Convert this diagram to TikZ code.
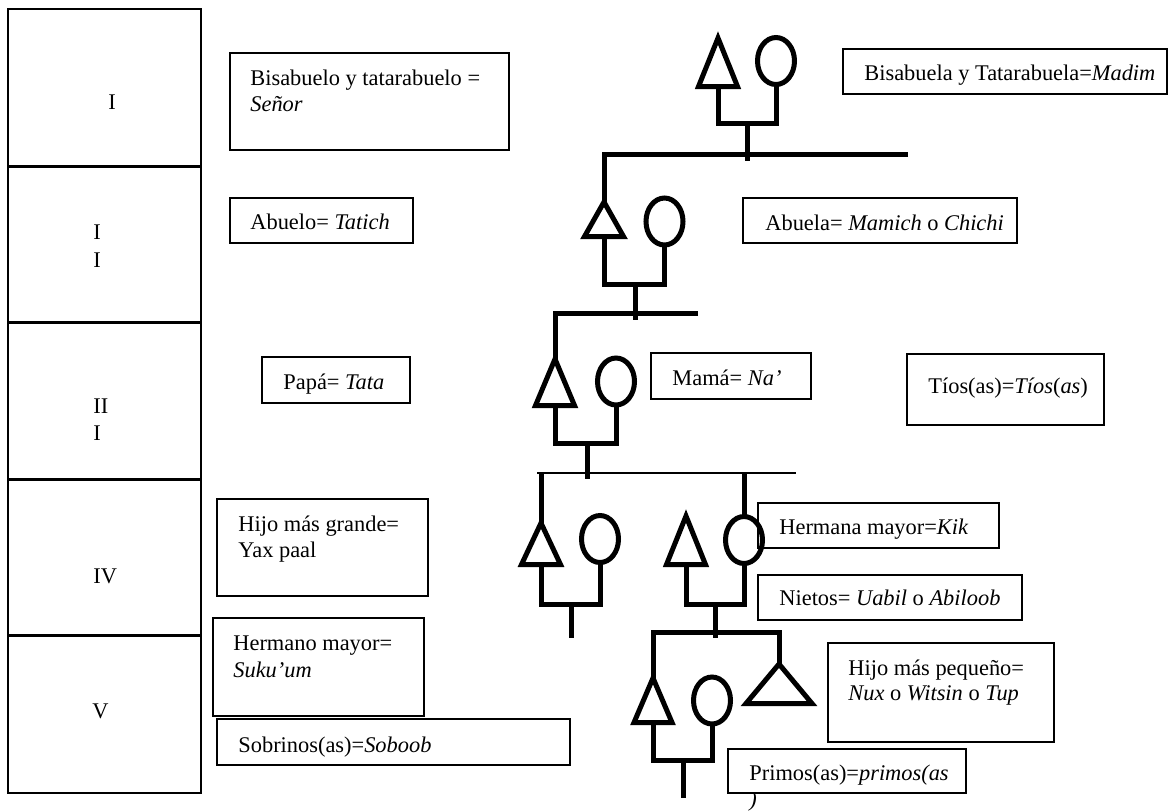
\documentclass[tikz,border=0pt]{standalone}
\usepackage{fontspec}
\setmainfont{Liberation Serif}
\usetikzlibrary{shapes.geometric,fit}
\newcommand\lbfont{\fontsize{11.2pt}{13pt}\selectfont}
% male symbol: name, x, apex y, base y, half width
\newcommand\maleT[5]{%
  \coordinate (#1-top) at (#2,#3);
  \coordinate (#1-bot) at (#2,#4);
  \draw[gl] (#1-top) -- (#2+#5,#4) -- (#2-#5,#4) -- cycle;}
\begin{document}
\begin{tikzpicture}[x=0.5pt,y=-0.5pt,
  gl/.style={line width=2.5pt, line join=miter, line cap=butt},
  thinbar/.style={line width=1.4pt},
  fem/.style={ellipse, draw, line width=2.5pt, minimum width=18.5pt, minimum height=23.5pt, inner sep=0pt, outer sep=0pt},
  bx/.style={draw, line width=1pt, inner sep=0pt, fill=white},
  lbl/.style={anchor=base west, inner sep=0pt, font=\lbfont},
  col/.style={line width=1pt},
  divline/.style={line width=1.5pt}]
\useasboundingbox (0,0) rectangle (1168,811);

% generation column
\draw[col] (8,9) rectangle (201,793);
\foreach \yy in {166,322,479,635} \draw[divline] (8,\yy) -- (201,\yy);
\node[lbl] (r1) at (108,109) {I};
\node[lbl] (r2a) at (93,239) {I};
\node[lbl] (r2b) at (93,267) {I};
\node[lbl] (r3a) at (93,413) {II};
\node[lbl] (r3b) at (93,440) {I};
\node[lbl] (r4) at (93,583) {IV};
\node[lbl] (r5) at (92,718) {V};

% overflow character below Primos box
\node[lbl] (t15) at (749,806) {\textit{)}};

% boxes
\node[bx, fit={(230,53) (509,150)}] (b1) {};
\node[bx, fit={(230,198) (413,243)}] (b2) {};
\node[bx, fit={(262,357) (410,403)}] (b3) {};
\node[bx, fit={(217,499) (428,596)}] (b4) {};
\node[bx, fit={(213,618) (424,716)}] (b5) {};
\node[bx, fit={(217,719) (570,765)}] (b6) {};
\node[bx, fit={(843,49) (1167,94)}] (b7) {};
\node[bx, fit={(743,198) (1017,243)}] (b8) {};
\node[bx, fit={(651,353) (811,399)}] (b9) {};
\node[bx, fit={(907,354) (1104,425)}] (b10) {};
\node[bx, fit={(758,503) (999,548)}] (b11) {};
\node[bx, fit={(758,575) (1022,620)}] (b12) {};
\node[bx, fit={(828,643) (1054,742)}] (b13) {};
\node[bx, fit={(728,749) (966,793)}] (b14) {};

% texts
\node[lbl] (t1a) at (250,85) {Bisabuelo y tatarabuelo =};
\node[lbl] (t1b) at (250,111) {\textit{Señor}};
\node[lbl] (t2) at (250,229) {Abuelo= \textit{Tatich}};
\node[lbl] (t3) at (283,389) {Papá= \textit{Tata}};
\node[lbl] (t4a) at (238,531) {Hijo más grande=};
\node[lbl] (t4b) at (238,557) {Yax paal};
\node[lbl] (t5a) at (233,650) {Hermano mayor=};
\node[lbl] (t5b) at (233,677) {\textit{Suku’um}};
\node[lbl] (t6) at (238,752) {Sobrinos(as)=\textit{Soboob}};
\node[lbl] (t7) at (864,80) {Bisabuela y Tatarabuela=\textit{Madim}};
\node[lbl] (t8) at (765,230) {Abuela= \textit{Mamich} o \textit{Chichi}};
\node[lbl] (t9) at (672,385) {Mamá= \textit{Na’}};
\node[lbl] (t10) at (928,393) {Tíos(as)=\textit{Tíos}(\textit{as})};
\node[lbl] (t11) at (779,534) {Hermana mayor=\textit{Kik}};
\node[lbl] (t12) at (779,605) {Nietos= \textit{Uabil} o \textit{Abiloob}};
\node[lbl] (t13a) at (848,675) {Hijo más pequeño=};
\node[lbl] (t13b) at (848,700) {\textit{Nux} o \textit{Witsin} o \textit{Tup}};
\node[lbl] (t14) at (749,780) {Primos(as)=\textit{primos(as}};

% ---- kinship symbols ----
% generation I
\maleT{m1}{718}{38}{86.5}{19.5}
\node[fem] (f1) at (776,61) {};
\coordinate (j1) at (747,123.5);
\draw[gl] (m1-bot) -- (718,123.5) -- (776,123.5) -- (f1.south);
\draw[gl] (j1) -- (747,161);
% generation II
\maleT{m2}{604}{202}{236.5}{19.5}
\node[fem] (f2) at (664.5,221.5) {};
\draw[gl] (908,154) -- (604,154) -- (m2-top);
\coordinate (j2) at (635,284);
\draw[gl] (m2-bot) -- (604,284) -- (664.5,284) -- (f2.south);
\draw[gl] (j2) -- (635,320);
% generation III
\maleT{m3}{555}{359}{405.5}{19.5}
\node[fem] (f3) at (616,381.5) {};
\draw[gl] (698,313) -- (555,313) -- (m3-top);
\coordinate (j3) at (587,443);
\draw[gl] (m3-bot) -- (555,443) -- (616,443) -- (f3.south);
\draw[gl] (j3) -- (587,479);
% generation IV
\draw[thinbar] (537,473) -- (796,473);
\maleT{m4}{541}{523}{564.5}{19.5}
\node[fem] (f4) at (600,539) {};
\maleT{m5}{686}{516}{564.5}{19.5}
\node[fem] (f5) at (744,540) {};
\draw[gl] (541,473) -- (m4-top);
\draw[gl] (744,473) -- (f5.north);
\coordinate (j4) at (571,604);
\draw[gl] (m4-bot) -- (541,604) -- (600,604) -- (f4.south);
\draw[gl] (j4) -- (571,638);
\coordinate (j5) at (715,604);
\draw[gl] (m5-bot) -- (686,604) -- (744,604) -- (f5.south);
\draw[gl] (j5) -- (715,638);
% generation V
\maleT{m6}{653}{678}{722.5}{19}
\node[fem] (f6) at (712,700.5) {};
\maleT{m7}{779}{664}{703.5}{33}
\draw[gl] (m6-top) -- (653,632) -- (779,632) -- (m7-top);
\coordinate (j6) at (683,760);
\draw[gl] (m6-bot) -- (653,760) -- (712,760) -- (f6.south);
\draw[gl] (j6) -- (683,798);
\end{tikzpicture}
\end{document}
